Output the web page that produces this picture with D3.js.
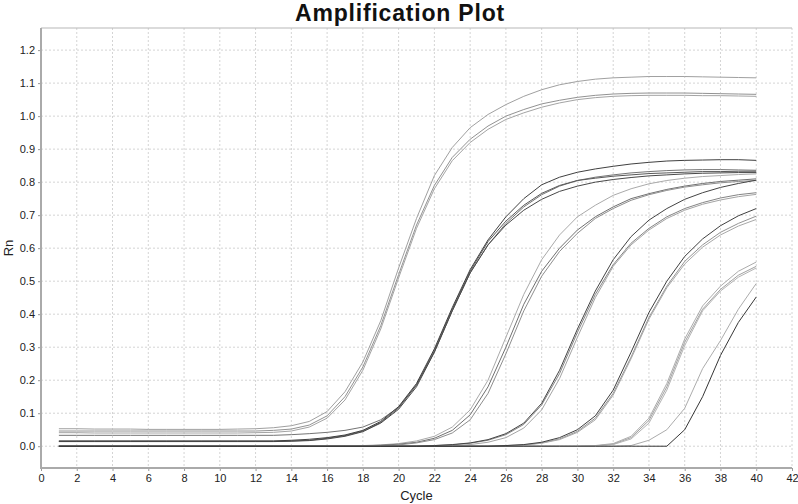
<!DOCTYPE html>
<html>
<head>
<meta charset="utf-8">
<script src="https://cdn.jsdelivr.net/npm/d3@7"></script>
<style>
  body { margin: 0; background: #fff; }
  svg { display: block; font-family: "Liberation Sans", Arial, sans-serif; }
</style>
</head>
<body>
<div id="chart"></div>
<script>
// cycle numbers on the x axis
const cycles = [1,2,3,4,5,6,7,8,9,10,11,12,13,14,15,16,17,18,19,20,21,22,23,24,25,26,27,28,29,30,31,32,33,34,35,36,37,38,39,40];

// Rn per cycle, one array per well
const wellA1 = [0.053,0.053,0.052,0.052,0.052,0.051,0.051,0.051,0.051,0.051,0.052,0.053,0.056,0.062,0.075,0.105,0.165,0.255,0.38,0.54,0.69,0.82,0.905,0.965,1.005,1.035,1.06,1.08,1.095,1.105,1.112,1.116,1.118,1.12,1.12,1.12,1.119,1.118,1.117,1.116];
const wellA2 = [0.046,0.046,0.046,0.046,0.046,0.046,0.046,0.046,0.046,0.046,0.046,0.046,0.048,0.052,0.064,0.092,0.15,0.24,0.365,0.52,0.67,0.79,0.875,0.93,0.97,1.0,1.02,1.037,1.048,1.057,1.063,1.067,1.069,1.07,1.07,1.07,1.069,1.068,1.067,1.066];
const wellA3 = [0.041,0.041,0.04,0.04,0.04,0.04,0.04,0.04,0.04,0.04,0.04,0.041,0.042,0.046,0.058,0.085,0.14,0.23,0.355,0.51,0.66,0.78,0.865,0.92,0.96,0.99,1.01,1.027,1.04,1.05,1.056,1.06,1.062,1.063,1.063,1.063,1.062,1.062,1.061,1.06];
const wellB1 = [0.033,0.033,0.033,0.033,0.033,0.033,0.033,0.033,0.033,0.033,0.033,0.033,0.033,0.035,0.038,0.042,0.048,0.058,0.08,0.118,0.185,0.285,0.41,0.525,0.61,0.675,0.725,0.762,0.788,0.805,0.815,0.822,0.828,0.832,0.835,0.837,0.838,0.838,0.837,0.836];
const wellB2 = [0.016,0.016,0.016,0.016,0.016,0.016,0.016,0.016,0.016,0.016,0.016,0.016,0.016,0.018,0.021,0.026,0.034,0.048,0.075,0.12,0.19,0.295,0.42,0.535,0.625,0.695,0.75,0.792,0.815,0.83,0.84,0.848,0.855,0.86,0.864,0.866,0.867,0.868,0.868,0.866];
const wellB3 = [0.014,0.014,0.014,0.014,0.014,0.014,0.014,0.014,0.014,0.014,0.014,0.014,0.014,0.015,0.017,0.022,0.03,0.044,0.07,0.112,0.18,0.285,0.41,0.525,0.61,0.67,0.715,0.748,0.772,0.788,0.8,0.808,0.814,0.819,0.822,0.825,0.827,0.828,0.829,0.829];
const wellB4 = [0.015,0.015,0.015,0.015,0.015,0.015,0.015,0.015,0.015,0.015,0.015,0.015,0.015,0.016,0.018,0.024,0.032,0.046,0.072,0.116,0.186,0.29,0.415,0.53,0.62,0.682,0.73,0.766,0.79,0.805,0.812,0.818,0.822,0.826,0.828,0.83,0.832,0.832,0.833,0.833];
const wellC1 = [0,0,0,0,0,0,0,0,0,0,0,0,0,0,0,0,0,0.002,0.004,0.008,0.016,0.03,0.058,0.11,0.2,0.33,0.46,0.565,0.64,0.695,0.73,0.76,0.78,0.795,0.805,0.812,0.817,0.82,0.823,0.825];
const wellC2 = [0,0,0,0,0,0,0,0,0,0,0,0,0,0,0,0,0,0.001,0.003,0.006,0.012,0.024,0.048,0.095,0.18,0.3,0.43,0.53,0.6,0.655,0.695,0.725,0.75,0.765,0.778,0.788,0.796,0.802,0.806,0.81];
const wellC3 = [0,0,0,0,0,0,0,0,0,0,0,0,0,0,0,0,0,0,0.001,0.004,0.01,0.02,0.04,0.08,0.16,0.28,0.41,0.515,0.59,0.645,0.69,0.72,0.745,0.762,0.775,0.785,0.792,0.798,0.802,0.805];
const wellD1 = [0,0,0,0,0,0,0,0,0,0,0,0,0,0,0,0,0,0,0,0,0,0.002,0.005,0.01,0.02,0.038,0.07,0.13,0.23,0.355,0.47,0.565,0.635,0.685,0.72,0.748,0.768,0.784,0.796,0.806];
const wellD2 = [0,0,0,0,0,0,0,0,0,0,0,0,0,0,0,0,0,0,0,0,0,0.002,0.004,0.009,0.018,0.035,0.066,0.125,0.22,0.345,0.46,0.55,0.615,0.66,0.695,0.72,0.738,0.752,0.762,0.768];
const wellD3 = [0,0,0,0,0,0,0,0,0,0,0,0,0,0,0,0,0,0,0,0,0,0,0.002,0.005,0.012,0.026,0.055,0.11,0.205,0.33,0.45,0.545,0.61,0.655,0.69,0.715,0.733,0.746,0.756,0.763];
const wellE1 = [0,0,0,0,0,0,0,0,0,0,0,0,0,0,0,0,0,0,0,0,0,0,0,0,0,0.002,0.005,0.012,0.026,0.05,0.092,0.17,0.285,0.405,0.5,0.575,0.628,0.668,0.698,0.72];
const wellE2 = [0,0,0,0,0,0,0,0,0,0,0,0,0,0,0,0,0,0,0,0,0,0,0,0,0,0.002,0.004,0.01,0.022,0.045,0.085,0.16,0.27,0.39,0.485,0.56,0.61,0.648,0.675,0.697];
const wellE3 = [0,0,0,0,0,0,0,0,0,0,0,0,0,0,0,0,0,0,0,0,0,0,0,0,0,0.001,0.003,0.009,0.02,0.042,0.08,0.155,0.265,0.385,0.48,0.552,0.603,0.64,0.667,0.687];
const wellF1 = [0,0,0,0,0,0,0,0,0,0,0,0,0,0,0,0,0,0,0,0,0,0,0,0,0,0,0,0,0,0,0.002,0.008,0.03,0.085,0.19,0.325,0.425,0.485,0.53,0.558];
const wellF2 = [0,0,0,0,0,0,0,0,0,0,0,0,0,0,0,0,0,0,0,0,0,0,0,0,0,0,0,0,0,0,0.001,0.006,0.026,0.078,0.18,0.315,0.415,0.475,0.518,0.545];
const wellF3 = [0,0,0,0,0,0,0,0,0,0,0,0,0,0,0,0,0,0,0,0,0,0,0,0,0,0,0,0,0,0,0.001,0.005,0.022,0.07,0.17,0.305,0.41,0.47,0.512,0.54];
const wellF4 = [0,0,0,0,0,0,0,0,0,0,0,0,0,0,0,0,0,0,0,0,0,0,0,0,0,0,0,0,0,0,0,0,0.002,0.018,0.05,0.115,0.235,0.32,0.415,0.493];
const wellF5 = [0,0,0,0,0,0,0,0,0,0,0,0,0,0,0,0,0,0,0,0,0,0,0,0,0,0,0,0,0,0,0,0,0,0,0,0.05,0.15,0.275,0.375,0.452];

const wells = [wellA1, wellA2, wellA3, wellC1, wellC2, wellC3, wellD2, wellD3, wellE2, wellE3,
               wellF1, wellF2, wellF3, wellF4, wellB1, wellB4, wellB3, wellB2, wellD1, wellE1, wellF5];
// stroke grey for each well, same order as wells
const wellColors = ["#a0a0a0", "#929292", "#a4a4a4", "#aaaaaa", "#707070", "#8e8e8e", "#848484", "#a4a4a4", "#949494", "#a8a8a8",
                    "#acacac", "#a0a0a0", "#b4b4b4", "#acacac", "#747474", "#585858", "#484848", "#404040", "#444444", "#404040", "#363636"];

const xTicks = [0,2,4,6,8,10,12,14,16,18,20,22,24,26,28,30,32,34,36,38,40,42];
const yTicks = [0,0.1,0.2,0.3,0.4,0.5,0.6,0.7,0.8,0.9,1.0,1.1,1.2];

const width = 798, height = 504;
const plotLeft = 41, plotRight = 792, plotTop = 28, plotBottom = 468;

const x = d3.scaleLinear().domain([0, 42]).range([plotLeft, plotRight]);
const y = d3.scaleLinear().domain([-0.066, 1.267]).range([plotBottom, plotTop]);

const svg = d3.select("#chart").append("svg")
  .attr("width", width)
  .attr("height", height);

// dashed grid
svg.append("g")
  .selectAll("line")
  .data(xTicks.filter(d => d > 0))
  .join("line")
  .attr("x1", d => x(d)).attr("x2", d => x(d))
  .attr("y1", plotTop).attr("y2", plotBottom)
  .attr("stroke", "#d4d4d4")
  .attr("stroke-dasharray", "2,2");

svg.append("g")
  .selectAll("line")
  .data(yTicks)
  .join("line")
  .attr("x1", plotLeft).attr("x2", plotRight)
  .attr("y1", d => y(d)).attr("y2", d => y(d))
  .attr("stroke", "#d4d4d4")
  .attr("stroke-dasharray", "2,2");

// top frame line
svg.append("line")
  .attr("x1", plotLeft).attr("x2", plotRight)
  .attr("y1", plotTop).attr("y2", plotTop)
  .attr("stroke", "#b8b8b8")
  .attr("stroke-width", 1.2);

// curves
const line = d3.line()
  .x((d, i) => x(cycles[i]))
  .y(d => y(d));

svg.append("g")
  .selectAll("path")
  .data(wells)
  .join("path")
  .attr("d", line)
  .attr("fill", "none")
  .attr("stroke", (d, i) => wellColors[i])
  .attr("stroke-width", 1);

// axes
const xAxis = svg.append("g")
  .attr("transform", `translate(0,${plotBottom})`)
  .call(d3.axisBottom(x).tickValues(xTicks).tickSize(3).tickPadding(3).tickFormat(d3.format("d")));

const yAxis = svg.append("g")
  .attr("transform", `translate(${plotLeft},0)`)
  .call(d3.axisLeft(y).tickValues(yTicks).tickSize(3).tickPadding(3).tickFormat(d3.format(".1f")));

[xAxis, yAxis].forEach(g => {
  g.select(".domain").remove();
  g.selectAll(".tick line").attr("stroke", "#999");
  g.selectAll(".tick text")
    .attr("fill", "#222")
    .style("font-size", "11px")
    .style("font-family", "'Liberation Sans', Arial, sans-serif");
});

svg.append("line")
  .attr("x1", plotLeft).attr("x2", plotLeft)
  .attr("y1", plotTop).attr("y2", plotBottom + 1)
  .attr("stroke", "#aaa")
  .attr("stroke-width", 2);

svg.append("line")
  .attr("x1", plotLeft).attr("x2", plotRight)
  .attr("y1", plotBottom).attr("y2", plotBottom)
  .attr("stroke", "#aaa")
  .attr("stroke-width", 2);

// titles
svg.append("text")
  .attr("x", 400)
  .attr("y", 21)
  .attr("text-anchor", "middle")
  .style("font-size", "23px")
  .style("font-weight", "bold")
  .style("letter-spacing", "0.8px")
  .attr("fill", "#111")
  .text("Amplification Plot");

svg.append("text")
  .attr("x", (plotLeft + plotRight) / 2)
  .attr("y", 500)
  .attr("text-anchor", "middle")
  .style("font-size", "13px")
  .attr("fill", "#222")
  .text("Cycle");

svg.append("text")
  .attr("transform", `translate(13,${(plotTop + plotBottom) / 2}) rotate(-90)`)
  .attr("text-anchor", "middle")
  .style("font-size", "13px")
  .attr("fill", "#222")
  .text("Rn");
</script>
</body>
</html>
